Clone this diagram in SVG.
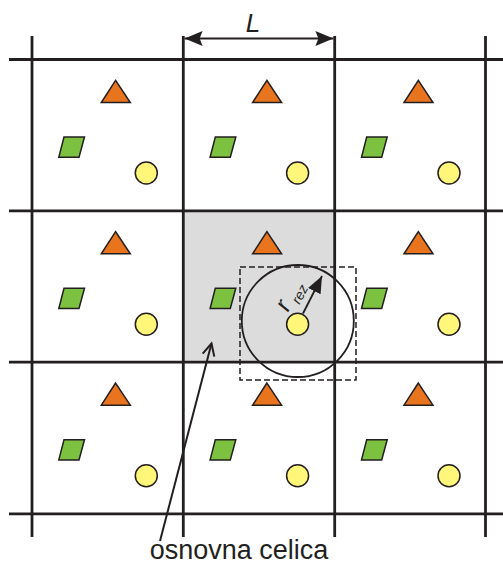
<svg xmlns="http://www.w3.org/2000/svg" width="503" height="565" viewBox="0 0 503 565">
<style>
.grid{stroke:#231f20;stroke-width:2.8;fill:none}
.tri{fill:#e8741e;stroke:#231f20;stroke-width:1.5;stroke-linejoin:miter}
.par{fill:#7cc13f;stroke:#231f20;stroke-width:1.5}
.dot{fill:#fff67a;stroke:#231f20;stroke-width:1.5}
.thin{stroke:#231f20;stroke-width:1.8;fill:none}
.lbl{font-family:"Liberation Sans",Arial,sans-serif;fill:#231f20}
</style>
<defs>
<marker id="dimA" markerUnits="userSpaceOnUse" markerWidth="20" markerHeight="16" refX="18" refY="8" orient="auto-start-reverse" viewBox="0 0 20 16">
<path d="M0,0.5 L18,8 L0,15.5 L3,8 Z" fill="#231f20"/>
</marker>
<marker id="rA" markerUnits="userSpaceOnUse" markerWidth="18" markerHeight="16" refX="17" refY="8" orient="auto" viewBox="0 0 18 16">
<path d="M0,1 L17,8 L0,15 Z" fill="#231f20"/>
</marker>
<marker id="openA" markerUnits="userSpaceOnUse" markerWidth="16" markerHeight="16" refX="14" refY="8" orient="auto" viewBox="0 0 16 16">
<path d="M2,2 L14,8 L2,14" fill="none" stroke="#231f20" stroke-width="2"/>
</marker>
<g id="shapes">
<polygon class="tri" points="83.6,20.8 69.3,43 98.3,43"/>
<polygon class="par" points="32,77.5 52.5,77.5 47,97.7 26.8,97.7"/>
<circle class="dot" cx="114.3" cy="113.5" r="11"/>
</g>
</defs>
<rect id="base-cell" x="183.3" y="210.8" width="151.4" height="151.4" fill="#dcdcdc"/>
<g id="cells">
<g id="c00" transform="translate(32,59.5)"><use href="#shapes"/></g>
<g id="c01" transform="translate(183.3,59.5)"><use href="#shapes"/></g>
<g id="c02" transform="translate(334.7,59.5)"><use href="#shapes"/></g>
<g id="c10" transform="translate(32,210.8)"><use href="#shapes"/></g>
<g id="c11" transform="translate(183.3,210.8)"><use href="#shapes"/></g>
<g id="c12" transform="translate(334.7,210.8)"><use href="#shapes"/></g>
<g id="c20" transform="translate(32,362.2)"><use href="#shapes"/></g>
<g id="c21" transform="translate(183.3,362.2)"><use href="#shapes"/></g>
<g id="c22" transform="translate(334.7,362.2)"><use href="#shapes"/></g>
</g>
<g id="grid" class="grid">
<line x1="32" y1="36" x2="32" y2="537"/>
<line x1="183.3" y1="36" x2="183.3" y2="537"/>
<line x1="334.7" y1="36" x2="334.7" y2="537"/>
<line x1="485.5" y1="36" x2="485.5" y2="537"/>
<line x1="9" y1="59.5" x2="503" y2="59.5"/>
<line x1="9" y1="210.8" x2="503" y2="210.8"/>
<line x1="9" y1="362.2" x2="503" y2="362.2"/>
<line x1="9" y1="513.8" x2="503" y2="513.8"/>
</g>
<g id="cutoff">
<circle cx="297.8" cy="321" r="56" class="thin"/>
<rect x="240" y="267" width="116" height="113" fill="none" stroke="#231f20" stroke-width="1.5" stroke-dasharray="6,3"/>
</g>
<g id="connectors">
<line x1="184.6" y1="38.5" x2="333.4" y2="38.5" stroke="#231f20" stroke-width="2" marker-start="url(#dimA)" marker-end="url(#dimA)"/>
<line x1="303" y1="313.5" x2="322" y2="276" stroke="#231f20" stroke-width="1.8" marker-end="url(#rA)"/>
<line x1="160" y1="541" x2="211.5" y2="343.5" stroke="#231f20" stroke-width="2" marker-end="url(#openA)"/>
</g>
<g id="labels">
<text class="lbl" x="253" y="32" font-size="26" font-style="italic" text-anchor="middle">L</text>
<text class="lbl" transform="translate(290,309) rotate(-62)" font-size="24" font-style="italic" text-anchor="middle">r</text>
<text class="lbl" transform="translate(304,296.5) rotate(-62)" font-size="14" font-style="italic" text-anchor="middle">rez</text>
<text class="lbl" x="239" y="559" font-size="27" text-anchor="middle">osnovna celica</text>
</g>
</svg>
